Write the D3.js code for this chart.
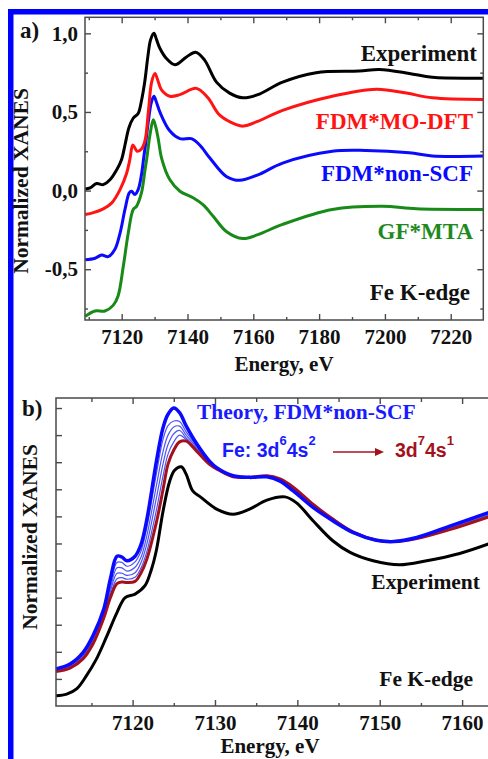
<!DOCTYPE html>
<html>
<head>
<meta charset="utf-8">
<script src="https://cdn.jsdelivr.net/npm/d3@7"></script>
<style>
body { margin: 0; background: #fff; }
svg { display: block; }
text { font-family: "Liberation Serif", "Times New Roman", serif; font-weight: bold; }
</style>
</head>
<body>
<script>
var W = 488, H = 759;

// panel a) : [energy eV, normalized XANES]
var expA = [[7108.9,0.01],[7110.4,0.017],[7112.4,0.045],[7114.4,0.038],[7116.5,0.07],[7118.5,0.133],[7120,0.2],
	[7121,0.29],[7122.2,0.40],[7123.5,0.46],[7125,0.49],[7126,0.57],[7127,0.69],[7128,0.86],[7128.8,0.96],[7129.8,1.0],
	[7130.6,0.96],[7131.6,0.905],[7133.6,0.84],[7136.2,0.80],[7139.7,0.85],[7142.5,0.88],[7145.2,0.83],[7148.8,0.69],
	[7152.8,0.62],[7156.8,0.59],[7161.4,0.61],[7168.9,0.69],[7179.1,0.75],[7192.2,0.76],[7198.3,0.77],[7207.4,0.745],
	[7214.4,0.72],[7229.9,0.715]];
var fdmMoA = [[7108.9,-0.152],[7111.4,-0.14],[7114.4,-0.116],[7117,-0.078],[7119.5,0.006],[7121.5,0.11],[7122.5,0.2],
	[7123.4,0.29],[7124.7,0.25],[7126,0.265],[7127.1,0.32],[7128.1,0.50],[7129.1,0.69],[7130.1,0.745],[7131,0.70],
	[7132.1,0.64],[7134.6,0.60],[7137.7,0.61],[7142.7,0.65],[7146.2,0.59],[7149.8,0.48],[7154.8,0.42],[7157,0.41],
	[7161.3,0.44],[7168.9,0.51],[7184,0.60],[7197.4,0.645],[7206.5,0.62],[7214.4,0.59],[7229.9,0.58]];
var nonScfA = [[7108.9,-0.44],[7111.9,-0.43],[7113.9,-0.41],[7115.9,-0.42],[7117.9,-0.375],[7119.5,-0.27],[7121,-0.12],
	[7122.3,-0.015],[7123,-0.004],[7124,-0.025],[7125,0.006],[7126,0.10],[7126.7,0.21],[7127.4,0.32],[7128.1,0.44],
	[7129,0.56],[7129.8,0.60],[7130.6,0.56],[7131.6,0.50],[7134.6,0.38],[7137.7,0.33],[7141.2,0.33],[7143.7,0.29],
	[7146.8,0.207],[7151.8,0.09],[7155.8,0.065],[7161.4,0.10],[7168.9,0.175],[7184,0.25],[7194.2,0.255],[7207.4,0.24],
	[7214.4,0.22],[7229.9,0.22]];
var gfMtaA = [[7108.9,-0.80],[7111.9,-0.766],[7114.9,-0.766],[7117.4,-0.73],[7118.9,-0.67],[7120.5,-0.48],[7122,-0.27],
	[7123.5,-0.12],[7124.5,-0.10],[7126,-0.015],[7127.1,0.133],[7127.6,0.2],[7128.6,0.355],[7129.6,0.45],[7130.4,0.40],
	[7131.1,0.33],[7132.2,0.20],[7134.6,0.07],[7137.7,-0.004],[7141.7,-0.046],[7144.7,-0.09],[7147.8,-0.163],
	[7151.8,-0.26],[7156.8,-0.305],[7161.4,-0.28],[7168.9,-0.215],[7184,-0.12],[7199.3,-0.10],[7209.6,-0.116],[7229.9,-0.12]];

var xTicksA = [7120, 7140, 7160, 7180, 7200, 7220];
var xMinorA = [7110, 7130, 7150, 7170, 7190, 7210];
var yTicksA = [-0.5, 0, 0.5, 1.0];
var yMinorA = [-0.75, -0.25, 0.25, 0.75];

// panel b) : experiment as pairs, theory on one energy grid
var expB = [[7110.7,0.038],[7112,0.044],[7113.2,0.063],[7114.4,0.112],[7115.6,0.173],[7116.8,0.253],[7118.1,0.345],
	[7119.1,0.40],[7120.3,0.413],[7121.5,0.444],[7122.3,0.506],[7122.9,0.577],[7123.7,0.72],[7124.5,0.83],[7125.1,0.87],
	[7125.9,0.883],[7126.5,0.856],[7127.3,0.794],[7128.3,0.77],[7130.2,0.727],[7132.2,0.708],[7134.2,0.727],[7136.3,0.76],
	[7138.5,0.772],[7139.9,0.75],[7141.9,0.684],[7144.3,0.61],[7146.4,0.567],[7149.2,0.536],[7152.4,0.521],[7155.7,0.536],
	[7159.7,0.563],[7163.2,0.598]];
var eB = [7110.7,7112.4,7114.0,7115.2,7116.5,7117.3,7118.1,7118.7,7119.3,7120.3,7121.0,7121.7,7122.9,7123.7,7124.3,
	7125.0,7125.7,7126.5,7127.8,7129.3,7130.2,7132.2,7134.2,7136.3,7137.9,7139.5,7141.9,7144.3,7146.8,7149.6,7151.7,
	7154.5,7158.6,7163.2];
var d6s2 = [0.137,0.155,0.198,0.26,0.358,0.469,0.553,0.55,0.536,0.553,0.595,0.684,0.905,1.028,1.077,1.10,1.083,1.034,
	0.967,0.905,0.88,0.85,0.844,0.846,0.83,0.794,0.733,0.684,0.64,0.612,0.607,0.622,0.665,0.714];
var mid1 = [0.135,0.152,0.193,0.253,0.35,0.45,0.53,0.53,0.516,0.532,0.57,0.655,0.86,0.985,1.035,1.052,1.05,1.012,
	0.96,0.902,0.879,0.849,0.844,0.847,0.832,0.797,0.735,0.685,0.64,0.612,0.607,0.621,0.662,0.71];
var mid2 = [0.133,0.149,0.188,0.246,0.343,0.435,0.51,0.51,0.498,0.512,0.548,0.625,0.815,0.94,1.0,1.03,1.033,1.0,
	0.955,0.899,0.878,0.848,0.844,0.848,0.834,0.80,0.738,0.686,0.641,0.612,0.607,0.62,0.659,0.707];
var mid3 = [0.131,0.146,0.184,0.24,0.336,0.422,0.49,0.49,0.482,0.492,0.528,0.595,0.77,0.895,0.965,1.005,1.017,0.99,
	0.95,0.897,0.877,0.847,0.844,0.849,0.836,0.803,0.741,0.688,0.641,0.612,0.607,0.619,0.656,0.704];
var mid4 = [0.129,0.143,0.179,0.235,0.33,0.41,0.47,0.474,0.468,0.475,0.508,0.567,0.725,0.85,0.93,0.975,1.0,0.984,
	0.945,0.895,0.876,0.846,0.844,0.85,0.837,0.806,0.743,0.689,0.642,0.612,0.607,0.619,0.654,0.701];
var d7s1 = [0.127,0.14,0.175,0.23,0.325,0.40,0.452,0.458,0.456,0.46,0.49,0.54,0.68,0.80,0.893,0.945,0.975,0.978,
	0.94,0.893,0.875,0.846,0.844,0.85,0.838,0.808,0.745,0.69,0.642,0.612,0.607,0.618,0.652,0.698];

var xTicksB = [7120, 7130, 7140, 7150, 7160];
var xMinorB = [7115, 7125, 7135, 7145, 7155];
var yTicksB = [0.1, 0.2, 0.3, 0.4, 0.5, 0.6, 0.7, 0.8, 0.9, 1.0, 1.1];

var axisColor = "#4a4a4a";
var sans = "'Liberation Sans', Arial, sans-serif";

var svg = d3.select("body").append("svg").attr("width", W).attr("height", H);

// blue border of the figure
svg.append("rect").attr("x", 8).attr("y", 9).attr("width", 480).attr("height", 5.5).attr("fill", "#0000ff");
svg.append("rect").attr("x", 8).attr("y", 9).attr("width", 5.5).attr("height", 750).attr("fill", "#0000ff");

function addAxis(axis, tx, ty, fontSize) {
	var g = svg.append("g").attr("transform", "translate(" + tx + "," + ty + ")").call(axis);
	g.select(".domain").remove();
	g.selectAll("line").attr("stroke", axisColor).attr("stroke-width", 1.4);
	g.selectAll("text").attr("fill", "#111").style("font-size", fontSize + "px")
		.style("font-family", "'Liberation Serif', serif").style("font-weight", "bold");
	return g;
}

function addFrame(x0, y0, x1, y1) {
	svg.append("rect").attr("x", x0).attr("y", y0).attr("width", x1 - x0).attr("height", y1 - y0)
		.attr("fill", "none").attr("stroke", axisColor).attr("stroke-width", 1.5);
}

function label(txt, x, y, color, size, anchor) {
	return svg.append("text").attr("x", x).attr("y", y).attr("fill", color)
		.attr("text-anchor", anchor || "start").style("font-size", size + "px").text(txt);
}

var comma = function(v){ return v.toFixed(1).replace(".", ","); };

// ---------- panel a ----------
var xa = d3.scaleLinear().domain([7108.85, 7229.9]).range([85, 483.3]);
var ya = d3.scaleLinear().domain([-0.823, 1.102]).range([320, 17.3]);

addAxis(d3.axisBottom(xa).tickValues(xTicksA).tickSize(-6).tickPadding(9).tickFormat(d3.format("d")), 0, 320, 21);
addAxis(d3.axisBottom(xa).tickValues(xMinorA).tickSize(-3).tickFormat(""), 0, 320, 21);
addAxis(d3.axisTop(xa).tickValues(xTicksA).tickSize(-6).tickFormat(""), 0, 17.3, 21);
addAxis(d3.axisTop(xa).tickValues(xMinorA).tickSize(-3).tickFormat(""), 0, 17.3, 21);
addAxis(d3.axisLeft(ya).tickValues(yTicksA).tickSize(-6).tickPadding(7).tickFormat(comma), 85, 0, 21);
addAxis(d3.axisLeft(ya).tickValues(yMinorA).tickSize(-3).tickFormat(""), 85, 0, 21);
addAxis(d3.axisRight(ya).tickValues(yTicksA).tickSize(-6).tickFormat(""), 483.3, 0, 21);
addAxis(d3.axisRight(ya).tickValues(yMinorA).tickSize(-3).tickFormat(""), 483.3, 0, 21);

var lineA = d3.line().x(function(d){ return xa(d[0]); }).y(function(d){ return ya(d[1]); })
	.curve(d3.curveCatmullRom.alpha(0.5));

[[gfMtaA, "#178a17"], [nonScfA, "#0a0aff"], [fdmMoA, "#ff1414"], [expA, "#000"]].forEach(function(s){
	svg.append("path").datum(s[0]).attr("d", lineA).attr("fill", "none")
		.attr("stroke", s[1]).attr("stroke-width", 3).attr("stroke-linejoin", "round");
});
addFrame(85, 17.3, 483.3, 320);

label("a)", 20, 38, "#111", 23);
label("Experiment", 477, 61, "#111", 23, "end");
label("FDM*MO-DFT", 473, 129, "#ff1414", 23, "end");
label("FDM*non-SCF", 473, 181, "#0a0aff", 23, "end");
label("GF*MTA", 473, 239, "#1e8a1e", 23, "end");
label("Fe K-edge", 470, 300, "#111", 23, "end");
label("Energy, eV", 284, 371, "#111", 21, "middle");
svg.append("text").attr("transform", "translate(28,181) rotate(-90)").attr("text-anchor", "middle")
	.attr("fill", "#111").style("font-size", "21.5px").text("Normalized XANES");

// ---------- panel b ----------
var xb = d3.scaleLinear().domain([7110.7, 7164.6]).range([56, 500]);
var yb = d3.scaleLinear().domain([0, 1.137]).range([706, 398]);

addAxis(d3.axisBottom(xb).tickValues(xTicksB).tickSize(-6).tickPadding(9).tickFormat(d3.format("d")), 0, 706, 21);
addAxis(d3.axisBottom(xb).tickValues(xMinorB).tickSize(-3).tickFormat(""), 0, 706, 21);
addAxis(d3.axisTop(xb).tickValues(xTicksB).tickSize(-6).tickFormat(""), 0, 398, 21);
addAxis(d3.axisTop(xb).tickValues(xMinorB).tickSize(-4).tickFormat(""), 0, 398, 21);
addAxis(d3.axisLeft(yb).tickValues(yTicksB).tickSize(-6).tickFormat(""), 56, 0, 21);

var lineB = d3.line().x(function(d){ return xb(d[0]); }).y(function(d){ return yb(d[1]); })
	.curve(d3.curveCatmullRom.alpha(0.5));
function onGrid(vals){ return eB.map(function(e, i){ return [e, vals[i]]; }); }

[mid4, mid3, mid2, mid1].forEach(function(v){
	svg.append("path").datum(onGrid(v)).attr("d", lineB).attr("fill", "none")
		.attr("stroke", "#4f55f2").attr("stroke-width", 1.2);
});
svg.append("path").datum(onGrid(d7s1)).attr("d", lineB).attr("fill", "none")
	.attr("stroke", "#a3121c").attr("stroke-width", 3);
svg.append("path").datum(onGrid(d6s2)).attr("d", lineB).attr("fill", "none")
	.attr("stroke", "#0a0aff").attr("stroke-width", 3.5);
svg.append("path").datum(expB).attr("d", lineB).attr("fill", "none")
	.attr("stroke", "#000").attr("stroke-width", 3);
addFrame(56, 398, 500, 706);

label("b)", 22, 416, "#111", 23);
label("Theory, FDM*non-SCF", 197, 419, "#1a1aff", 21.5);

var cfg1 = svg.append("text").attr("x", 222).attr("y", 457).attr("fill", "#1a1aff")
	.style("font-family", sans).style("font-size", "19.5px");
cfg1.append("tspan").text("Fe: 3d");
cfg1.append("tspan").attr("dy", -12).style("font-size", "13px").text("6");
cfg1.append("tspan").attr("dy", 12).text("4s");
cfg1.append("tspan").attr("dy", -12).style("font-size", "13px").text("2");

svg.append("line").attr("x1", 333).attr("y1", 452).attr("x2", 377).attr("y2", 452)
	.attr("stroke", "#a3121c").attr("stroke-width", 1.5);
svg.append("path").attr("d", "M375,448 L384,452 L375,456 Z").attr("fill", "#a3121c");

var cfg2 = svg.append("text").attr("x", 395).attr("y", 457).attr("fill", "#a3121c")
	.style("font-family", sans).style("font-size", "19.5px");
cfg2.append("tspan").text("3d");
cfg2.append("tspan").attr("dy", -12).style("font-size", "13px").text("7");
cfg2.append("tspan").attr("dy", 12).text("4s");
cfg2.append("tspan").attr("dy", -12).style("font-size", "13px").text("1");

label("Experiment", 480, 589, "#111", 21.5, "end");
label("Fe K-edge", 473, 686, "#111", 21.5, "end");
label("Energy, eV", 270, 753, "#111", 21, "middle");
svg.append("text").attr("transform", "translate(37,537) rotate(-90)").attr("text-anchor", "middle")
	.attr("fill", "#111").style("font-size", "21.5px").text("Normalized XANES");
</script>
</body>
</html>
